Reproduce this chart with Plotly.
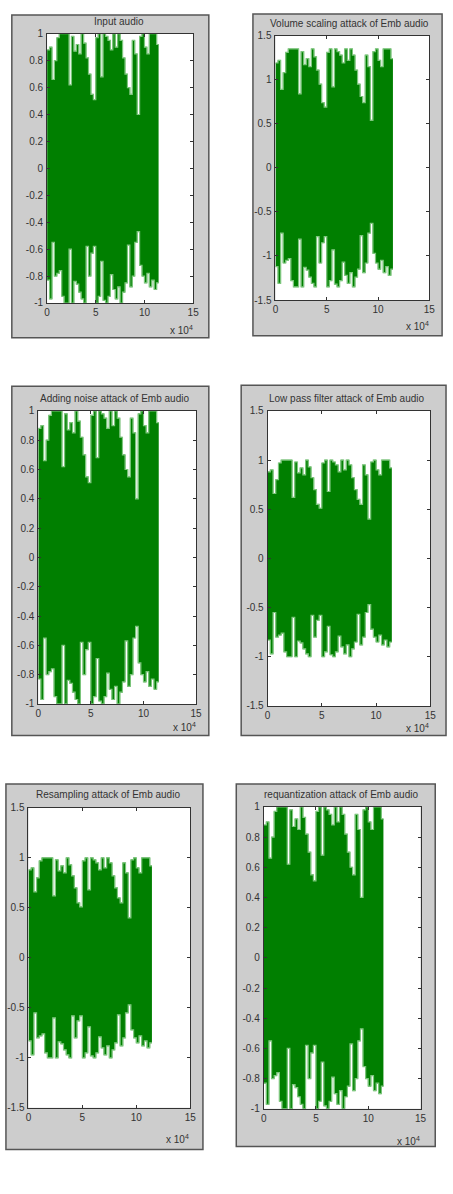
import plotly.graph_objects as go

W, H = 453, 1194

# segment starts of the waveform envelope (units of 1e4 samples)
SEG_X = [0, 0.25, 0.5, 0.75, 1, 1.25, 1.5, 1.75, 2, 2.25, 2.5, 2.75, 3, 3.25, 3.5, 3.75,
         4, 4.25, 4.5, 4.75, 5, 5.25, 5.5, 5.75, 6, 6.25, 6.5, 6.75, 7, 7.25, 7.5, 7.75,
         8, 8.25, 8.5, 8.75, 9, 9.25, 9.5, 9.75, 10, 10.25, 10.5, 10.75, 11, 11.25]
END_X = 11.45

INPUT_TOP = [0.88, 0.90, 0.66, 0.80, 0.97, 1.00, 1.00, 1.00, 1.00, 0.62, 0.98, 0.87, 0.92, 0.85, 1.00, 0.93,
             0.82, 0.70, 0.55, 0.51, 0.97, 1.00, 0.68, 1.00, 0.98, 0.95, 0.88, 1.00, 0.90, 1.00, 0.95, 0.82,
             0.70, 0.60, 0.55, 0.95, 0.85, 0.40, 0.98, 1.00, 0.90, 0.85, 1.00, 1.00, 1.00, 0.92]
INPUT_BOT = [-0.83, -0.97, -0.55, -0.80, -0.78, -0.76, -0.95, -1.00, -1.00, -0.60, -1.00, -0.84, -0.86, -0.92, -0.97, -1.00,
             -0.58, -0.80, -0.63, -0.58, -1.00, -0.95, -0.69, -0.98, -1.00, -0.95, -0.79, -0.90, -0.97, -0.88, -1.00, -0.92,
             -0.85, -0.57, -0.88, -0.80, -0.55, -0.47, -0.72, -0.80, -0.85, -0.78, -0.88, -0.83, -0.90, -0.85]

VOLUME_TOP = [1.19, 1.22, 0.89, 1.08, 1.31, 1.35, 1.35, 1.35, 1.35, 0.84, 1.32, 1.17, 1.24, 1.15, 1.35, 1.26,
              1.11, 0.95, 0.74, 0.69, 1.31, 1.35, 0.92, 1.35, 1.32, 1.28, 1.19, 1.35, 1.22, 1.35, 1.28, 1.11,
              0.95, 0.81, 0.74, 1.28, 1.15, 0.54, 1.32, 1.35, 1.22, 1.15, 1.35, 1.35, 1.35, 1.24]
VOLUME_BOT = [-1.12, -1.31, -0.74, -1.08, -1.05, -1.03, -1.28, -1.35, -1.35, -0.81, -1.35, -1.13, -1.16, -1.24, -1.31, -1.35,
              -0.78, -1.08, -0.85, -0.78, -1.35, -1.28, -0.93, -1.32, -1.35, -1.28, -1.07, -1.22, -1.31, -1.19, -1.35, -1.24,
              -1.15, -0.77, -1.19, -1.08, -0.74, -0.63, -0.97, -1.08, -1.15, -1.05, -1.19, -1.12, -1.22, -1.15]

# the other attacks show the same envelope as the input (clipped at +/-1)
NOISE_TOP, NOISE_BOT = list(INPUT_TOP), list(INPUT_BOT)
LOWPASS_TOP, LOWPASS_BOT = list(INPUT_TOP), list(INPUT_BOT)
RESAMPLE_TOP, RESAMPLE_BOT = list(INPUT_TOP), list(INPUT_BOT)
REQUANT_TOP, REQUANT_BOT = list(INPUT_TOP), list(INPUT_BOT)

TITLES = ["Input audio", "Volume scaling attack of Emb audio", "Adding noise attack of Emb audio",
          "Low pass filter attack of Emb audio", "Resampling attack of Emb audio",
          "requantization attack of Emb audio"]

X_TICKS = [0, 5, 10, 15]
Y_TICKS_1 = [-1, -0.8, -0.6, -0.4, -0.2, 0, 0.2, 0.4, 0.6, 0.8, 1]
Y_TEXT_1 = ["-1", "-0.8", "-0.6", "-0.4", "-0.2", "0", "0.2", "0.4", "0.6", "0.8", "1"]
Y_TICKS_15 = [-1.5, -1, -0.5, 0, 0.5, 1, 1.5]
Y_TEXT_15 = ["-1.5", "-1", "-0.5", "0", "0.5", "1", "1.5"]

# layout in pixels: frame (x0,y0,x1,y1), plot (x0,y0,x1,y1), title (cx, cy), exponent label (xr, cy)
PANELS = [
    dict(top=INPUT_TOP, bot=INPUT_BOT, ymax=1.0, frame=(9, 9, 210, 335), plot=(45, 28, 194, 300),
         title=(118, 16), exp=(196, 327)),
    dict(top=VOLUME_TOP, bot=VOLUME_BOT, ymax=1.5, frame=(255, 8, 448, 333), plot=(278, 30, 435, 297),
         title=(354, 18), exp=(437, 323)),
    dict(top=NOISE_TOP, bot=NOISE_BOT, ymax=1.0, frame=(9, 384, 210, 737), plot=(36, 409, 197, 705),
         title=(114, 396), exp=(199, 728)),
    dict(top=LOWPASS_TOP, bot=LOWPASS_BOT, ymax=1.5, frame=(243, 383, 452, 737), plot=(270, 409, 436, 707),
         title=(351, 396), exp=(437, 729)),
    dict(top=RESAMPLE_TOP, bot=RESAMPLE_BOT, ymax=1.5, frame=(3, 786, 204, 1155), plot=(26, 810, 191, 1113),
         title=(107, 797), exp=(192, 1145)),
    dict(top=REQUANT_TOP, bot=REQUANT_BOT, ymax=1.0, frame=(238, 786, 441, 1152), plot=(266, 809, 426, 1114),
         title=(345, 796), exp=(428, 1147)),
]

DARK = "#007f00"
LIGHT = "#7cc67c"
FONT = "Liberation Sans, Arial, sans-serif"

fig = go.Figure()
shapes, annotations = [], []
layout_axes = {}


def px_x(v):
    return v / W


def px_y(v):
    return 1 - v / H


for i, p in enumerate(PANELS):
    n = i + 1
    xa = "x" if n == 1 else f"x{n}"
    ya = "y" if n == 1 else f"y{n}"
    xs = SEG_X + [END_X]
    top = p["top"] + [p["top"][-1]]
    bot = p["bot"] + [p["bot"][-1]]
    # filled waveform body
    fig.add_trace(go.Scatter(x=xs, y=top, mode="lines", line=dict(color=DARK, width=0.5, shape="hv"),
                             xaxis=xa, yaxis=ya, showlegend=False, hoverinfo="skip"))
    fig.add_trace(go.Scatter(x=xs, y=bot, mode="lines", line=dict(color=DARK, width=0.5, shape="hv"),
                             fill="tonexty", fillcolor=DARK,
                             xaxis=xa, yaxis=ya, showlegend=False, hoverinfo="skip"))
    # light-green fringe of the peaks
    for env in (top, bot):
        fig.add_trace(go.Scatter(x=xs, y=env, mode="lines", line=dict(color=LIGHT, width=1.2, shape="hv"),
                                 xaxis=xa, yaxis=ya, showlegend=False, hoverinfo="skip"))

    fx0, fy0, fx1, fy1 = p["frame"]
    shapes.append(dict(type="rect", xref="paper", yref="paper", layer="below",
                       x0=px_x(fx0), x1=px_x(fx1), y0=px_y(fy1), y1=px_y(fy0),
                       fillcolor="#cdcdcd", line=dict(color="#555555", width=1.5)))
    px0, py0, px1, py1 = p["plot"]
    shapes.append(dict(type="rect", xref="paper", yref="paper", layer="below",
                       x0=px_x(px0), x1=px_x(px1), y0=px_y(py1), y1=px_y(py0),
                       fillcolor="white", line=dict(width=0)))

    if p["ymax"] == 1.0:
        tv, tt = Y_TICKS_1, Y_TEXT_1
    else:
        tv, tt = Y_TICKS_15, Y_TEXT_15

    common = dict(showline=True, linecolor="#333333", linewidth=1, mirror="ticks",
                  ticks="inside", ticklen=3, tickcolor="#333333", showgrid=False, zeroline=False,
                  tickfont=dict(family=FONT, size=10, color="#333333"), fixedrange=True)
    layout_axes["xaxis" if n == 1 else f"xaxis{n}"] = dict(
        domain=[px_x(px0), px_x(px1)], anchor=ya, range=[0, 15],
        tickvals=X_TICKS, ticktext=[str(t) for t in X_TICKS], **common)
    layout_axes["yaxis" if n == 1 else f"yaxis{n}"] = dict(
        domain=[px_y(py1), px_y(py0)], anchor=xa, range=[-p["ymax"], p["ymax"]],
        tickvals=tv, ticktext=tt, ticklabelstandoff=1, **common)

    tx, ty = p["title"]
    annotations.append(dict(xref="paper", yref="paper", x=px_x(tx), y=px_y(ty), text=TITLES[i],
                            showarrow=False, xanchor="center", yanchor="middle",
                            font=dict(family=FONT, size=10, color="#333333")))
    ex, ey = p["exp"]
    annotations.append(dict(xref="paper", yref="paper", x=px_x(ex), y=px_y(ey), text="x 10<sup>4</sup>",
                            showarrow=False, xanchor="right", yanchor="middle",
                            font=dict(family=FONT, size=10, color="#333333")))

fig.update_layout(width=W, height=H, margin=dict(l=0, r=0, t=0, b=0), autosize=False,
                  paper_bgcolor="white", plot_bgcolor="rgba(0,0,0,0)",
                  shapes=shapes, annotations=annotations, showlegend=False, **layout_axes)

fig.write_html("out.html", config={"displayModeBar": False})
